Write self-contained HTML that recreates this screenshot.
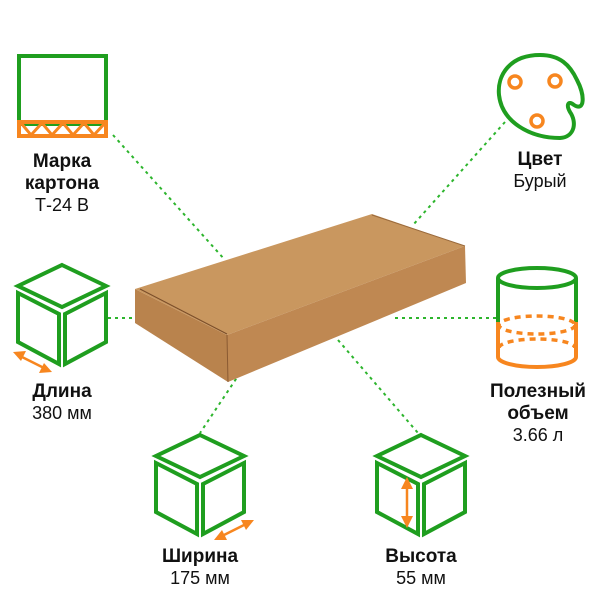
<!DOCTYPE html>
<html><head><meta charset="utf-8"><style>
body{margin:0;background:#fff;}
svg{display:block;}
text{font-family:"Liberation Sans",Arial,sans-serif;text-anchor:middle;fill:#111;}
.b{font-weight:bold;font-size:19px;}
.n{font-size:18px;font-weight:normal;}
</style></head><body>
<svg width="600" height="600" viewBox="0 0 600 600">
<!-- connectors -->
<g stroke="#2db52d" stroke-width="2" stroke-dasharray="3,4" fill="none">
<line x1="113" y1="135" x2="225" y2="260"/>
<line x1="505" y1="122" x2="413" y2="225"/>
<line x1="108" y1="318" x2="137" y2="318"/>
<line x1="395" y1="318" x2="497" y2="318"/>
<line x1="240" y1="373" x2="200" y2="433"/>
<line x1="338" y1="340" x2="418" y2="433"/>
</g>
<!-- box -->
<polygon points="135,289 372,214 465,246 227,335" fill="#c9975f"/>
<polygon points="227,335 465,246 466,283 228,382" fill="#bf8852"/>
<polygon points="135,289 227,335 228,382 135,323" fill="#b9834d"/>
<line x1="140" y1="289" x2="227" y2="334" stroke="#7a4e2a" stroke-width="1"/>
<line x1="372" y1="215" x2="465" y2="246" stroke="#9a6a3c" stroke-width="1"/>
<line x1="227" y1="335" x2="228" y2="382" stroke="#8a5a32" stroke-width="1"/>
<!-- Марка -->
<rect x="19" y="56" width="87" height="68" fill="none" stroke="#1f9e1f" stroke-width="4"/>
<rect x="19" y="122" width="87" height="14" fill="none" stroke="#f7861f" stroke-width="4"/>
<polyline points="21,123 31,135 42,123 52,135 63,123 73,135 84,123 94,135 105,123" fill="none" stroke="#f7861f" stroke-width="3"/>
<text class="b" x="62" y="167">Марка</text>
<text class="b" x="62" y="189">картона</text>
<text class="n" x="62" y="211">Т-24 В</text>
<!-- palette -->
<path d="M540,55 C510,55 497,75 499,95 C502,122 530,138 560,138 C575,137 577,122 570,112 C566,105 568,100 574,105 C585,112 585,95 577,80 C570,65 560,55 540,55 Z" fill="none" stroke="#1f9e1f" stroke-width="4"/>
<circle cx="515" cy="82" r="6" fill="none" stroke="#f7861f" stroke-width="3.5"/>
<circle cx="555" cy="81" r="6" fill="none" stroke="#f7861f" stroke-width="3.5"/>
<circle cx="537" cy="121" r="6" fill="none" stroke="#f7861f" stroke-width="3.5"/>
<text class="b" x="540" y="165">Цвет</text>
<text class="n" x="540" y="187">Бурый</text>
<!-- cubes -->
<g fill="none" stroke="#1f9e1f" stroke-width="4" stroke-linejoin="miter">
<polygon points="62,265 106,286 62,307 18,286"/>
<polygon points="18,293 59,314 59,364 18,342"/>
<polygon points="65,314 106,293 106,342 65,364"/>
<polygon points="200,435 244,456 200,477 156,456"/>
<polygon points="156,463 197,484 197,534 156,512"/>
<polygon points="203,484 244,463 244,512 203,534"/>
<polygon points="421,435 465,456 421,477 377,456"/>
<polygon points="377,463 418,484 418,534 377,512"/>
<polygon points="424,484 465,463 465,512 424,534"/>
</g>
<!-- arrows -->
<g fill="#f7861f" stroke="#f7861f" stroke-width="2.5">
<line x1="20" y1="356" x2="44" y2="368"/>
<polygon points="13,352 26,351 21,361" stroke="none"/>
<polygon points="52,372 39,373 44,363" stroke="none"/>
<line x1="222" y1="536" x2="246" y2="524"/>
<polygon points="214,540 222,530 227,540" stroke="none"/>
<polygon points="254,520 246,530 241,520" stroke="none"/>
<line x1="407" y1="486" x2="407" y2="519"/>
<polygon points="407,477 401,489 413,489" stroke="none"/>
<polygon points="407,528 401,516 413,516" stroke="none"/>
</g>
<text class="b" x="62" y="397">Длина</text>
<text class="n" x="62" y="419">380 мм</text>
<text class="b" x="200" y="562">Ширина</text>
<text class="n" x="200" y="584">175 мм</text>
<text class="b" x="421" y="562">Высота</text>
<text class="n" x="421" y="584">55 мм</text>
<!-- cylinder -->
<ellipse cx="537" cy="278" rx="39" ry="10" fill="none" stroke="#1f9e1f" stroke-width="4"/>
<line x1="498" y1="278" x2="498" y2="322" stroke="#1f9e1f" stroke-width="4"/>
<line x1="576" y1="278" x2="576" y2="322" stroke="#1f9e1f" stroke-width="4"/>
<path d="M498,322 L498,357 A39,10 0 0 0 576,357 L576,322" fill="none" stroke="#f7861f" stroke-width="4"/>
<g fill="none" stroke="#f7861f" stroke-width="3.5" stroke-dasharray="6,5">
<ellipse cx="537" cy="325" rx="38" ry="9"/>
<path d="M499,348 A38,9 0 0 1 575,348"/>
</g>
<text class="b" x="538" y="397">Полезный</text>
<text class="b" x="538" y="419">объем</text>
<text class="n" x="538" y="441">3.66 л</text>
</svg>
</body></html>
